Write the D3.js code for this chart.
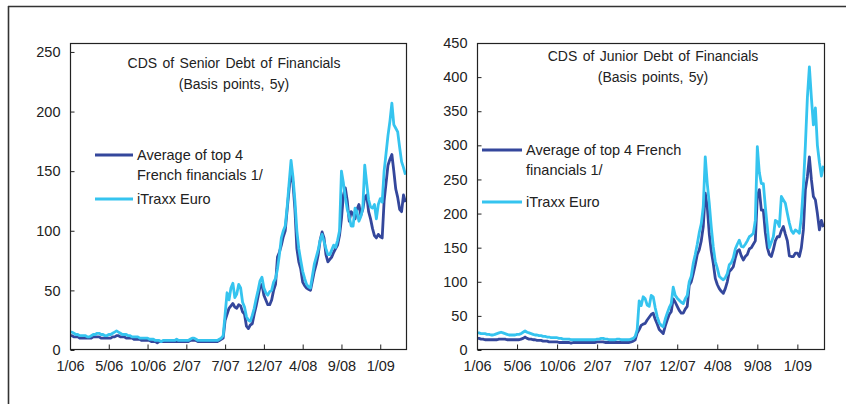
<!DOCTYPE html>
<html>
<head>
<meta charset="utf-8">
<script src="https://cdn.jsdelivr.net/npm/d3@7"></script>
<style>
  html, body { margin: 0; padding: 0; background: #fff; }
  svg { display: block; font-family: "Liberation Sans", Arial, sans-serif; }
</style>
</head>
<body>
<svg id="chart" width="846" height="404"></svg>
<script>
// ---- Data (one point every 0.05 tick interval) ----
const xTickLabels = ["1/06", "5/06", "10/06", "2/07", "7/07", "12/07", "4/08", "9/08", "1/09"];
const seriesNames = ["Average of top 4 French financials 1/", "iTraxx Euro"];

const seniorFrench = [
  12,12,11,11,11,10,10,10,10,10, 10,10,11,11,11,11,10,10,10,10,
  10,10,11,11,12,12,11,11,11,10, 10,10,10,9,9,9,9,8,8,8,
  8,8,7,7,7,6,7,7,7,7, 7,7,7,7,7,7,7,7,7,7,
  7,7,8,8,8,8,7,7,7,7, 7,7,7,7,7,7,7,8,9,10,
  25,30,35,37,39,36,35,38,37,32, 30,20,18,21,22,30,37,45,53,55,
  46,42,38,38,42,50,55,78,82,88, 95,100,118,135,150,140,118,85,74,68,
  57,54,52,51,50,58,66,72,80,92, 99,94,80,74,76,78,82,85,88,96,
  110,130,136,125,108,116,114,110,118,122, 113,118,128,130,116,110,102,96,94,97,
  95,94,125,140,155,160,164,150,135,128, 118,116,130,124
];
const seniorITraxx = [
  15,15,14,13,13,12,12,12,12,11, 11,12,13,13,14,14,13,13,12,12,
  13,13,14,15,16,15,14,13,13,13, 12,12,11,11,11,11,10,10,10,10,
  10,9,9,9,8,8,8,7,8,8, 8,8,8,8,8,9,8,8,8,8,
  8,8,9,10,10,9,8,8,8,8, 8,8,8,8,8,8,8,9,10,12,
  30,48,42,52,56,44,47,55,52,40, 36,28,25,24,29,35,43,50,58,61,
  52,48,46,49,50,57,60,68,80,94, 100,104,120,140,159,145,125,100,85,75,
  66,60,55,53,52,62,72,78,84,92, 97,91,85,80,80,84,88,86,92,100,
  150,140,128,118,112,104,104,119,116,108, 112,119,155,140,126,120,119,122,110,122,
  127,124,150,165,180,192,207,189,186,183, 170,158,153,147
];
const juniorFrench = [
  17,17,16,16,15,15,15,15,15,15, 15,16,16,16,16,15,15,15,15,15,
  15,15,16,17,19,17,16,16,15,15, 14,14,14,13,13,13,12,12,12,12,
  12,11,11,11,11,11,11,10,11,11, 11,11,11,11,11,11,11,11,11,11,
  12,12,12,12,11,11,11,11,11,11, 11,11,11,11,11,11,11,12,13,15,
  25,30,36,38,39,44,48,52,54,45, 38,30,27,24,35,44,52,56,75,70,
  64,58,54,54,60,64,95,100,112,125, 140,147,160,181,230,210,170,145,127,105,
  96,90,86,83,90,100,115,118,122,135, 145,147,138,132,137,140,148,150,155,160,
  225,235,205,205,172,150,140,137,147,160, 166,166,175,181,170,160,138,137,137,142,
  142,137,150,176,235,254,283,250,225,220, 200,176,190,180
];
const juniorITraxx = [
  25,25,24,24,24,23,23,22,22,23, 24,25,26,25,24,23,22,22,22,22,
  23,23,24,26,28,26,25,24,23,22, 22,21,21,20,20,19,19,18,18,18,
  18,17,17,16,16,16,16,15,15,15, 15,15,15,15,15,15,15,15,15,15,
  16,16,17,17,16,16,15,15,15,15, 16,16,15,15,15,15,15,16,17,20,
  30,72,65,78,75,66,64,80,78,62, 49,40,36,34,45,54,62,68,92,80,
  76,73,70,68,75,80,100,108,127,140, 155,172,185,210,283,244,215,180,151,130,
  120,108,105,103,106,112,125,128,135,148, 155,161,152,151,155,160,166,168,171,190,
  298,260,244,244,210,180,150,158,166,190, 188,181,225,220,215,200,186,175,171,176,
  174,171,195,240,300,370,415,370,330,355, 300,275,255,270
];
const tStep = 0.05;

const charts = [
  {
    title: ["CDS of Senior Debt of Financials", "(Basis points, 5y)"],
    series: [seniorFrench, seniorITraxx],
    yMax: 257.5, yTicks: [0, 50, 100, 150, 200, 250],
    box: { l: 70, r: 407, t: 43, b: 350 },
    titleX: 234, titleY: [63, 84],
    legend: { x1: 95, x2: 133, tx: 137, lines: [["Average of top 4", "French financials 1/"], ["iTraxx Euro"]], y: [155, 199], lh: 20 }
  },
  {
    title: ["CDS of Junior Debt of Financials", "(Basis points, 5y)"],
    series: [juniorFrench, juniorITraxx],
    yMax: 450, yTicks: [0, 50, 100, 150, 200, 250, 300, 350, 400, 450],
    box: { l: 477, r: 825, t: 43, b: 350 },
    titleX: 653, titleY: [56, 77],
    legend: { x1: 482, x2: 522, tx: 526, lines: [["Average of top 4 French", "financials 1/"], ["iTraxx Euro"]], y: [150, 202], lh: 20 }
  }
];

const colors = ["#34479c", "#35c4ef"];
const svg = d3.select("#chart");

// outer frame
svg.append("line").attr("x1", 8).attr("x2", 846).attr("y1", 6.5).attr("y2", 6.5)
  .attr("stroke", "#333").attr("stroke-width", 1.6);
svg.append("line").attr("x1", 8.5).attr("x2", 8.5).attr("y1", 6).attr("y2", 404)
  .attr("stroke", "#333").attr("stroke-width", 1.6);

charts.forEach(c => {
  const b = c.box;
  const x = d3.scaleLinear().domain([0, 8.69]).range([b.l, b.r]);
  const y = d3.scaleLinear().domain([0, c.yMax]).range([b.b, b.t]);
  const g = svg.append("g");

  // lines
  const line = d3.line().x((d, i) => x(i * tStep)).y(d => y(d)).curve(d3.curveLinear);
  c.series.forEach((s, k) => {
    g.append("path").datum(s).attr("d", line)
      .attr("fill", "none").attr("stroke", colors[k]).attr("stroke-width", 2.8)
      .attr("stroke-linejoin", "round");
  });

  // frame
  g.append("rect").attr("x", b.l + 0.5).attr("y", b.t + 0.5)
    .attr("width", b.r - b.l - 1).attr("height", b.b - b.t - 1)
    .attr("fill", "none").attr("stroke", "#222").attr("stroke-width", 1.2);

  // y axis (ticks inward)
  const yAxis = d3.axisLeft(y).tickValues(c.yTicks).tickSize(-4).tickPadding(10).tickFormat(d3.format("d"));
  const ya = g.append("g").attr("transform", `translate(${b.l + 0.5},0)`).call(yAxis);
  ya.select(".domain").remove();
  ya.selectAll("line").attr("stroke", "#222");
  ya.selectAll("text").attr("font-size", 14.5).attr("fill", "#222")
    .attr("font-family", "Liberation Sans, Arial, sans-serif");

  // x axis (ticks inward)
  const xAxis = d3.axisBottom(x).tickValues(d3.range(xTickLabels.length))
    .tickFormat(i => xTickLabels[i]).tickSize(-5).tickPadding(11);
  const xa = g.append("g").attr("transform", `translate(0,${b.b - 0.5})`).call(xAxis);
  xa.select(".domain").remove();
  xa.selectAll("line").attr("stroke", "#222");
  xa.selectAll("text").attr("font-size", 14.5).attr("fill", "#222")
    .attr("font-family", "Liberation Sans, Arial, sans-serif");

  // title
  c.title.forEach((t, i) => {
    g.append("text").attr("x", c.titleX).attr("y", c.titleY[i]).attr("dy", "0.35em")
      .attr("text-anchor", "middle").attr("font-size", 14).attr("fill", "#222")
      .attr("word-spacing", "1.5px").text(t);
  });

  // legend
  const L = c.legend;
  L.lines.forEach((txt, k) => {
    g.append("line").attr("x1", L.x1).attr("x2", L.x2).attr("y1", L.y[k]).attr("y2", L.y[k])
      .attr("stroke", colors[k]).attr("stroke-width", 3);
    txt.forEach((t, j) => {
      g.append("text").attr("x", L.tx).attr("y", L.y[k] + j * L.lh).attr("dy", "0.35em")
        .attr("font-size", 14.5).attr("fill", "#222").text(t);
    });
  });
});
</script>
</body>
</html>
